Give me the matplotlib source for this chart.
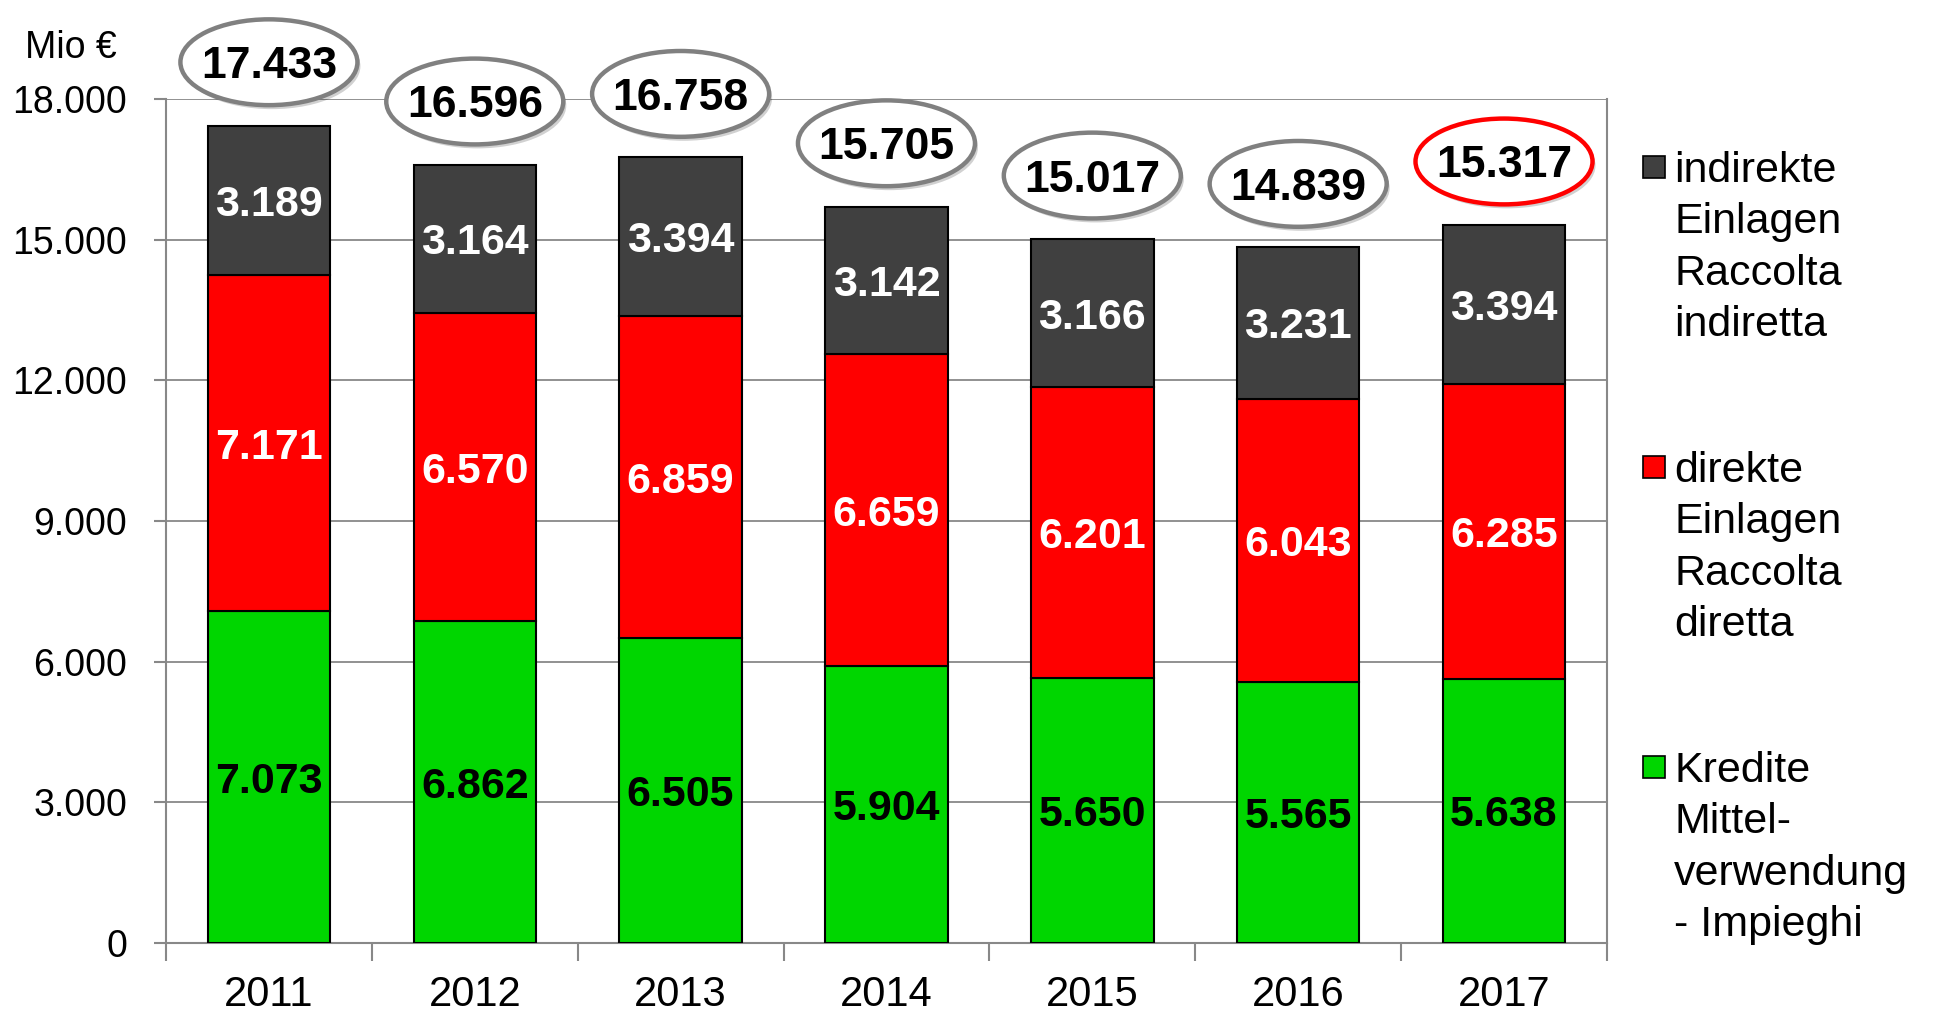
import matplotlib

matplotlib.use("Agg")
import matplotlib.pyplot as plt
import matplotlib.transforms as mtransforms
import numpy as np
from matplotlib.patches import Ellipse, Rectangle

plt.rcParams["font.family"] = ["Liberation Sans", "DejaVu Sans"]

years = ["2011", "2012", "2013", "2014", "2015", "2016", "2017"]
kredite = [7073, 6862, 6505, 5904, 5650, 5565, 5638]
direkte = [7171, 6570, 6859, 6659, 6201, 6043, 6285]
indirekte = [3189, 3164, 3394, 3142, 3166, 3231, 3394]

series_labels = [
    "indirekte\nEinlagen\nRaccolta\nindiretta",
    "direkte\nEinlagen\nRaccolta\ndiretta",
    "Kredite\nMittel-\nverwendung\n- Impieghi",
]
colors = {"ind": "#404040", "dir": "#ff0000", "kre": "#00d600"}
GRAY = "#888888"


def fmt(v):
    return f"{v:,}".replace(",", ".")


fig = plt.figure(figsize=(19.37, 10.14), dpi=100)
ax = fig.add_axes([0.0857, 0.070, 0.7439, 0.8324])

x = np.arange(len(years))
kre = np.array(kredite)
dir_ = np.array(direkte)
ind = np.array(indirekte)
total = kre + dir_ + ind
width = 0.595

bar_kw = dict(width=width, edgecolor="black", linewidth=1.5, zorder=3)
ax.bar(x, kre, color=colors["kre"], **bar_kw)
ax.bar(x, dir_, bottom=kre, color=colors["dir"], **bar_kw)
ax.bar(x, ind, bottom=kre + dir_, color=colors["ind"], **bar_kw)

value_kw = dict(ha="center", va="center_baseline", fontsize=31, fontweight="bold", zorder=5)
for i in range(len(years)):
    ax.text(x[i], kre[i] / 2, fmt(kre[i]), color="black", **value_kw)
    ax.text(x[i], kre[i] + dir_[i] / 2, fmt(dir_[i]), color="white", **value_kw)
    ax.text(x[i], kre[i] + dir_[i] + ind[i] / 2, fmt(ind[i]), color="white", **value_kw)

# total bubbles above the bars
shadow_tr = ax.transData + mtransforms.ScaledTranslation(3 / 100, -4 / 100, fig.dpi_scale_trans)
for i in range(len(years)):
    cy = total[i] + 1350
    edge = "#ff0000" if i == len(years) - 1 else "#808080"
    sh = Ellipse((x[i], cy), 0.86, 1830, transform=shadow_tr, facecolor="#000000",
                 alpha=0.18, edgecolor="none", clip_on=False, zorder=6)
    ax.add_patch(sh)
    el = Ellipse((x[i], cy), 0.86, 1830, facecolor="white", edgecolor=edge,
                 linewidth=3.2, clip_on=False, zorder=7)
    ax.add_patch(el)
    ax.text(x[i], cy, fmt(total[i]), ha="center", va="center_baseline", fontsize=32,
            fontweight="bold", color="black", zorder=8, clip_on=False)

ax.set_xlim(-0.5, len(years) - 0.5)
ax.set_ylim(0, 18000)
ax.set_yticks(np.arange(0, 18001, 3000))
ax.set_yticklabels([fmt(v) for v in range(0, 18001, 3000)])
ax.yaxis.grid(True, color=GRAY, linewidth=1.3, zorder=0)
ax.set_axisbelow(True)

ax.set_xticks(np.arange(-0.5, len(years), 1.0))
ax.set_xticklabels([])
ax.set_xticks(x, minor=True)
ax.set_xticklabels(years, minor=True)
ax.tick_params(axis="x", which="major", direction="out", length=13, width=1.5, color=GRAY)
ax.tick_params(axis="x", which="minor", length=0, pad=23, labelsize=30)
ax.tick_params(axis="y", direction="out", length=9, width=1.5, color=GRAY, pad=19, labelsize=27)

for side in ["left", "right", "bottom"]:
    ax.spines[side].set_color(GRAY)
    ax.spines[side].set_linewidth(1.5)
ax.spines["top"].set_visible(False)

fig.text(25 / 1937, 1 - 48 / 1014, "Mio €", fontsize=27, ha="left", va="center")

# legend drawn by hand so the swatch sits on the first line of each label
leg_colors = [colors["ind"], colors["dir"], colors["kre"]]
for k, (lab, col) in enumerate(zip(series_labels, leg_colors)):
    yc = 1 - (167 + 300 * k) / 1014
    fig.patches.append(Rectangle((1643 / 1937, yc - 11 / 1014), 22 / 1937, 22 / 1014,
                                 transform=fig.transFigure, facecolor=col,
                                 edgecolor="black", linewidth=1.2))
    fig.text(1674 / 1937, yc + 16 / 1014, lab, fontsize=31, ha="left", va="top",
             linespacing=1.37)

fig.savefig("out.png", dpi=100)
